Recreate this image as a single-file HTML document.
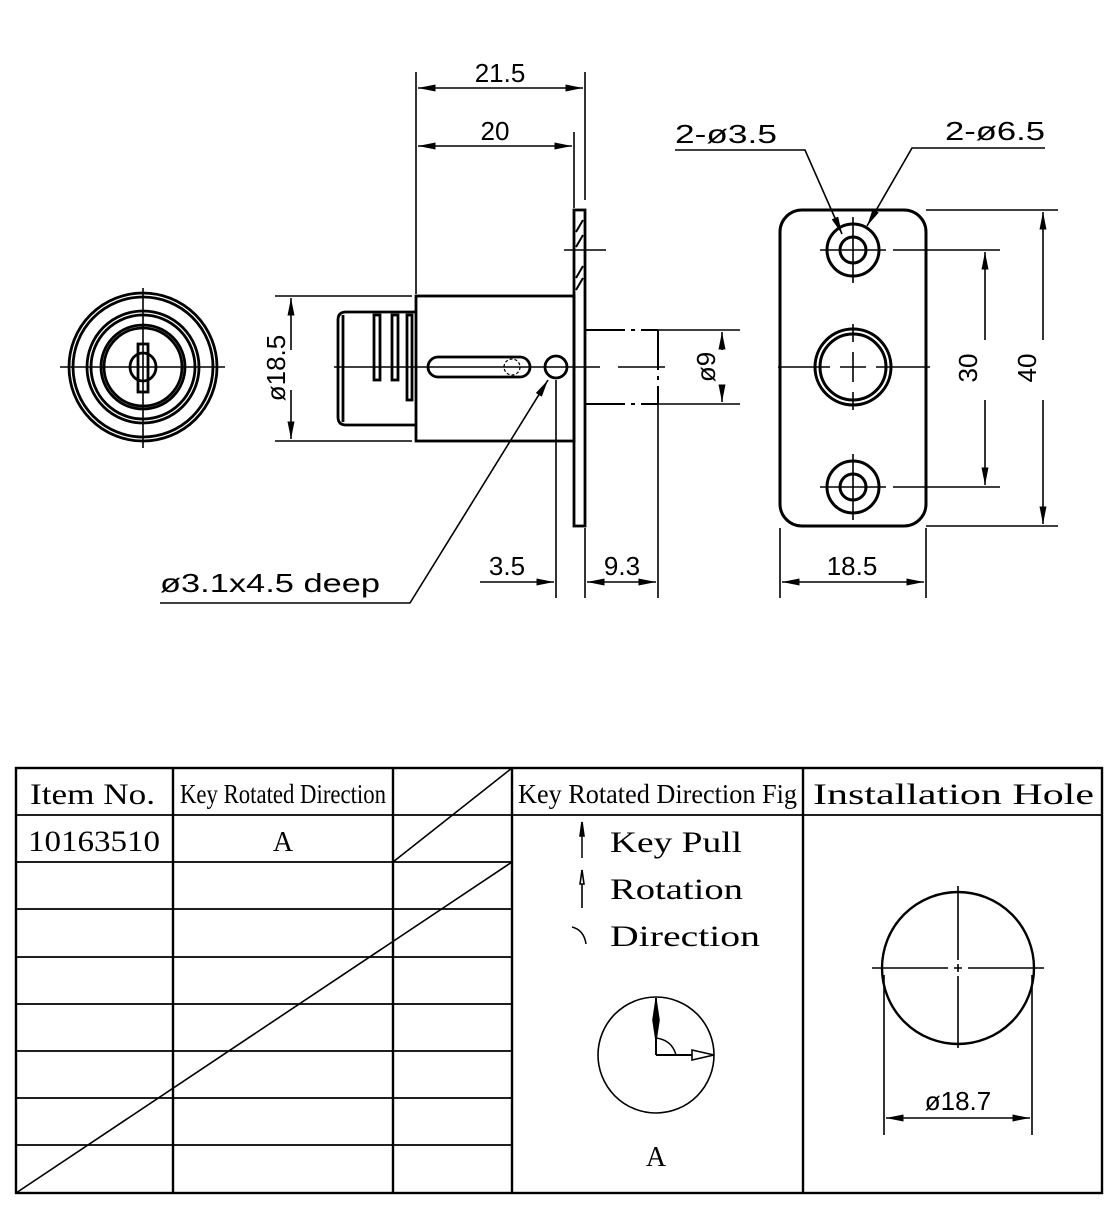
<!DOCTYPE html>
<html><head><style>html,body{margin:0;padding:0;background:#fff}svg{display:block}</style></head><body>
<svg width="1118" height="1213" viewBox="0 0 1118 1213" xmlns="http://www.w3.org/2000/svg" font-family="Liberation Sans, sans-serif">
<defs>
<marker id="a" viewBox="0 0 10 4" refX="10" refY="2" markerWidth="18" markerHeight="7" markerUnits="userSpaceOnUse" orient="auto"><path d="M0,0 L10,2 L0,4z" fill="#000"/></marker>
</defs>
<g stroke="#000" fill="none" stroke-width="1.6">
<g stroke-width="2.8">
<circle cx="143" cy="367" r="74"/><circle cx="143" cy="367" r="70"/>
<circle cx="143" cy="367" r="56"/><circle cx="143" cy="367" r="52"/>
<circle cx="143" cy="367" r="42"/><circle cx="143" cy="367" r="39"/>
<ellipse cx="143" cy="367" rx="13" ry="14"/>
<rect x="138" y="344" width="10" height="48"/>
</g>
<line x1="60" y1="367" x2="225" y2="367"/><line x1="143" y1="288" x2="143" y2="448"/>
<g stroke-width="2.8">
<rect x="416" y="296" width="158" height="145"/>
<path d="M416,312 L346,312 Q338,312 338,320 L338,417 Q338,425 346,425 L416,425"/>
<line x1="343" y1="315" x2="343" y2="422"/>
<rect x="374" y="315" width="6" height="65"/><rect x="392" y="315" width="6" height="65"/><rect x="407" y="315" width="5" height="85"/>
<rect x="574" y="210" width="11" height="316"/>
<rect x="428" y="357" width="102" height="20" rx="10"/>
<circle cx="556" cy="367" r="11"/>
<circle cx="512" cy="367" r="8" stroke-width="1.2" stroke-dasharray="3,2"/>
</g>
<path d="M576,232 L583,220 M576,247 L583,235 M576,290 L583,278 M576,278 L583,266" stroke-width="2"/>
<line x1="564" y1="250" x2="606" y2="250"/>
<line x1="334" y1="367" x2="600" y2="367"/><line x1="618" y1="367" x2="665" y2="367"/>
<path d="M585,330 H658 M585,404 H658 M658,330 V404" stroke-dasharray="40,6,4,6" stroke-width="2"/>
<line x1="658" y1="330" x2="740" y2="330"/><line x1="658" y1="404" x2="740" y2="404"/>
<line x1="722" y1="350" x2="722" y2="332" marker-end="url(#a)"/><line x1="722" y1="385" x2="722" y2="402" marker-end="url(#a)"/>
<line x1="275" y1="296" x2="412" y2="296"/><line x1="275" y1="441" x2="412" y2="441"/>
<line x1="291" y1="350" x2="291" y2="298" marker-end="url(#a)"/><line x1="291" y1="390" x2="291" y2="439" marker-end="url(#a)"/>
<line x1="416" y1="72" x2="416" y2="294"/><line x1="585" y1="72" x2="585" y2="200"/><line x1="574" y1="132" x2="574" y2="208"/>
<line x1="500" y1="88" x2="418" y2="88" marker-end="url(#a)"/><line x1="500" y1="88" x2="583" y2="88" marker-end="url(#a)"/>
<line x1="495" y1="146" x2="418" y2="146" marker-end="url(#a)"/><line x1="495" y1="146" x2="572" y2="146" marker-end="url(#a)"/>
<line x1="556" y1="380" x2="556" y2="598"/><line x1="585" y1="528" x2="585" y2="598"/><line x1="658" y1="404" x2="658" y2="598"/>
<line x1="480" y1="582" x2="554" y2="582" marker-end="url(#a)"/>
<line x1="620" y1="582" x2="587" y2="582" marker-end="url(#a)"/><line x1="620" y1="582" x2="656" y2="582" marker-end="url(#a)"/>
<polyline points="160,603 410,603 548,380" marker-end="url(#a)"/>
<rect x="780" y="210" width="146" height="316" rx="22" stroke-width="3"/>
<g stroke-width="3">
<circle cx="853" cy="250" r="26"/><circle cx="853" cy="250" r="13"/>
<circle cx="853" cy="487" r="26"/><circle cx="853" cy="487" r="13"/>
<circle cx="853" cy="367" r="38"/><circle cx="853" cy="367" r="33"/>
</g>
<path d="M820,250 H886 M853,217 V283 M820,487 H886 M853,454 V520 M778,367 H830 M840,367 H866 M876,367 H930 M853,324 V342 M853,352 V382 M853,392 V410"/>
<line x1="893" y1="250" x2="1000" y2="250"/><line x1="893" y1="487" x2="1000" y2="487"/>
<line x1="926" y1="210" x2="1058" y2="210"/><line x1="926" y1="526" x2="1058" y2="526"/>
<line x1="985" y1="340" x2="985" y2="252" marker-end="url(#a)"/><line x1="985" y1="400" x2="985" y2="485" marker-end="url(#a)"/>
<line x1="1043" y1="340" x2="1043" y2="212" marker-end="url(#a)"/><line x1="1043" y1="400" x2="1043" y2="524" marker-end="url(#a)"/>
<line x1="780" y1="528" x2="780" y2="598"/><line x1="926" y1="528" x2="926" y2="598"/>
<line x1="850" y1="582" x2="782" y2="582" marker-end="url(#a)"/><line x1="850" y1="582" x2="924" y2="582" marker-end="url(#a)"/>
<polyline points="675,150 805,150 842,234" marker-end="url(#a)"/>
<polyline points="1045,148 912,148 867,226" marker-end="url(#a)"/>
<rect x="16" y="768" width="1086" height="425" stroke-width="2.4"/>
<path d="M173,768 V1193 M393,768 V1193 M512,768 V1193 M803,768 V1193" stroke-width="2.4"/>
<path d="M16,815 H1102 M16,862 H512 M16,909 H512 M16,957 H512 M16,1004 H512 M16,1051 H512 M16,1098 H512 M16,1145 H512" stroke-width="1.8"/>
<line x1="393" y1="862" x2="512" y2="768"/><line x1="16" y1="1193" x2="512" y2="862"/>
<line x1="582" y1="822" x2="582" y2="858" stroke-width="1.5"/><path d="M580,836 L582,822 L584,836z" fill="#000"/>
<line x1="582" y1="870" x2="582" y2="908"/><path d="M580,884 L582,870 L584,884z" fill="#fff"/>
<path d="M572,927 Q584,930 586,944" stroke-width="1.5"/>
<circle cx="656" cy="1055" r="58"/>
<line x1="656" y1="998" x2="656" y2="1055" stroke-width="2"/><path d="M653,1020 L656,1000 L659,1020 L656,1040z" fill="#000"/>
<line x1="656" y1="1055" x2="714" y2="1055" stroke-width="2"/><path d="M692,1050 L714,1055 L692,1060z" fill="#fff"/>
<path d="M656,1038 Q672,1040 676,1055" stroke-width="1.5"/>
<circle cx="958" cy="968" r="76" stroke-width="2.4"/>
<path d="M872,968 H948 M954,968 H962 M968,968 H1044 M958,886 V960 M958,964 V972 M958,976 V1048"/>
<line x1="884" y1="975" x2="884" y2="1135"/><line x1="1032" y1="975" x2="1032" y2="1135"/>
<line x1="958" y1="1118" x2="886" y2="1118" marker-end="url(#a)"/><line x1="958" y1="1118" x2="1030" y2="1118" marker-end="url(#a)"/>
</g>
<g font-size="26" fill="#000">
<text x="500" y="82" text-anchor="middle">21.5</text>
<text x="495" y="140" text-anchor="middle">20</text>
<text x="507" y="575" text-anchor="middle">3.5</text>
<text x="622" y="575" text-anchor="middle">9.3</text>
<text x="160" y="592" textLength="220" lengthAdjust="spacingAndGlyphs">ø3.1x4.5 deep</text>
<text x="852" y="575" text-anchor="middle">18.5</text>
<text x="675" y="143" textLength="102" lengthAdjust="spacingAndGlyphs">2-ø3.5</text>
<text x="945" y="140" textLength="100" lengthAdjust="spacingAndGlyphs">2-ø6.5</text>
<text transform="translate(285,368) rotate(-90)" text-anchor="middle">ø18.5</text>
<text transform="translate(715,367) rotate(-90)" text-anchor="middle">ø9</text>
<text transform="translate(977,368) rotate(-90)" text-anchor="middle">30</text>
<text transform="translate(1036,368) rotate(-90)" text-anchor="middle">40</text>
<text x="958" y="1110" text-anchor="middle">ø18.7</text>
</g>
<g font-family="Liberation Serif, serif" fill="#000">
<text x="30" y="804" font-size="30" textLength="125" lengthAdjust="spacingAndGlyphs">Item No.</text>
<text x="180" y="803" font-size="27" textLength="206" lengthAdjust="spacingAndGlyphs">Key Rotated Direction</text>
<text x="518" y="803" font-size="27" textLength="279" lengthAdjust="spacingAndGlyphs">Key Rotated Direction Fig</text>
<text x="813" y="804" font-size="30" textLength="281" lengthAdjust="spacingAndGlyphs">Installation Hole</text>
<text x="28" y="851" font-size="30" textLength="132" lengthAdjust="spacingAndGlyphs">10163510</text>
<text x="283" y="851" font-size="28" text-anchor="middle">A</text>
<text x="610" y="852" font-size="30" textLength="132" lengthAdjust="spacingAndGlyphs">Key Pull</text>
<text x="610" y="899" font-size="30" textLength="133" lengthAdjust="spacingAndGlyphs">Rotation</text>
<text x="610" y="946" font-size="30" textLength="150" lengthAdjust="spacingAndGlyphs">Direction</text>
<text x="656" y="1166" font-size="28" text-anchor="middle">A</text>
</g>
</svg>
</body></html>
